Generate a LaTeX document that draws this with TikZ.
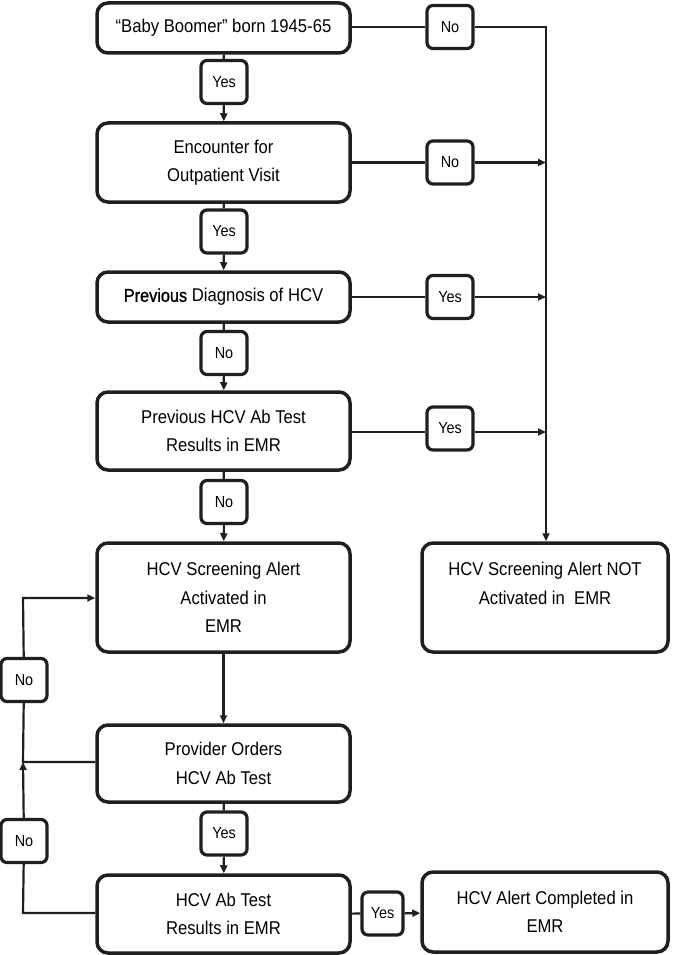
\documentclass[tikz,border=0pt]{standalone}
\usepackage{fontspec}
\setmainfont[FakeStretch=0.9]{Liberation Sans}
\newfontfamily\boldish[FakeStretch=0.88,FakeBold=1.2]{Liberation Sans}
\usetikzlibrary{arrows.meta}
\begin{document}
\begin{tikzpicture}[x=1pt,y=-1pt,
  box/.style={draw=black!88,line width=3.5pt,rounded corners=11pt,minimum width=253pt,align=center,
    font=\fontsize{18.5}{28.5}\selectfont,inner sep=0pt},
  lab/.style={draw=black!88,line width=3.2pt,rounded corners=6pt,minimum width=46pt,minimum height=43pt,
    font=\fontsize{16}{18}\selectfont,inner sep=0pt,fill=white},
  conn/.style={draw=black!88,line width=2.2pt},
  arr/.style={conn,-{Triangle[length=8pt,width=7pt]}}]
\useasboundingbox (0,0) rectangle (673,955);
\fill[white] (0,0) rectangle (673,955);
% main boxes
\node[box,minimum height=50pt] (b1) at (223.5,28) {``Baby Boomer'' born 1945-65};
\node[box,minimum height=79pt] (b2) at (223.5,162.5) {Encounter for\\Outpatient Visit};
\node[box,minimum height=50pt] (b3) at (223.5,297) {{\boldish Previous} Diagnosis of HCV};
\node[box,minimum height=78pt] (b4) at (223.5,431) {Previous HCV Ab Test\\Results in EMR};
\node[box,minimum height=109pt] (b5) at (223.5,597.5) {HCV Screening Alert\\Activated in\\EMR};
\node[box,minimum height=109pt,minimum width=246pt] (b6) at (545,597.5) {HCV Screening Alert NOT\\Activated in\ \ EMR\\~};
\node[box,minimum height=77pt] (b7) at (223.5,763.5) {Provider Orders\\HCV Ab Test};
\node[box,minimum height=78pt] (b8) at (223.5,914) {HCV Ab Test\\Results in EMR};
\node[box,minimum height=80pt,minimum width=246pt] (b9) at (545,912) {HCV Alert Completed in\\EMR};
% labels
\node[lab] (y1) at (224,82) {Yes};
\node[lab] (n1) at (450,27) {No};
\node[lab] (n2) at (450,162.5) {No};
\node[lab] (y2) at (224,231.5) {Yes};
\node[lab] (y3) at (450,297) {Yes};
\node[lab] (n3) at (224,353) {No};
\node[lab] (y4) at (450,428.5) {Yes};
\node[lab] (n4) at (224,502) {No};
\node[lab] (y5) at (224,833.5) {Yes};
\node[lab,minimum width=41pt] (y6) at (382.5,913.5) {Yes};
\node[lab] (nl1) at (24,680) {No};
\node[lab] (nl2) at (24,841) {No};
% coordinates
\coordinate (c1) at (546,27);
\coordinate (c2) at (546,162.5);
\coordinate (c3) at (546,297);
\coordinate (c4) at (546,432);
\coordinate (j1) at (23,762);
\coordinate (j2) at (23,598);
\coordinate (j3) at (23,913);
% main chain
\draw[conn] (b1) -- (y1); \draw[arr] (y1) -- (b2);
\draw[conn] (b2) -- (y2); \draw[arr] (y2) -- (b3);
\draw[conn] (b3) -- (n3); \draw[arr] (n3) -- (b4);
\draw[conn] (b4) -- (n4); \draw[arr] (n4) -- (b5);
\draw[arr] (b5) -- (b7);
\draw[conn] (b7) -- (y5); \draw[arr] (y5) -- (b8);
\draw[conn] (b8) -- (y6); \draw[arr] (y6) -- (b9);
% right branch
\draw[conn] (b1.east |- n1) -- (n1);
\draw[arr] (n1.east) -- (c1) -- (b6.north -| c1);
\draw[conn] (b2.east |- n2) -- (n2); \draw[arr] (n2) -- (c2);
\draw[conn] (b3) -- (y3); \draw[arr] (y3) -- (c3);
\draw[conn] (b4.east |- c4) -- (y4.west |- c4); \draw[arr] (y4.east |- c4) -- (c4);
% left loops
\draw[conn] (b7.west |- j1) -- (j1) -- (nl1);
\draw[arr] (nl1) -- (j2) -- (b5.west |- j2);
\draw[conn] (b8.west |- j3) -- (j3) -- (nl2);
\draw[arr] (nl2) -- (j1);
\end{tikzpicture}
\end{document}
